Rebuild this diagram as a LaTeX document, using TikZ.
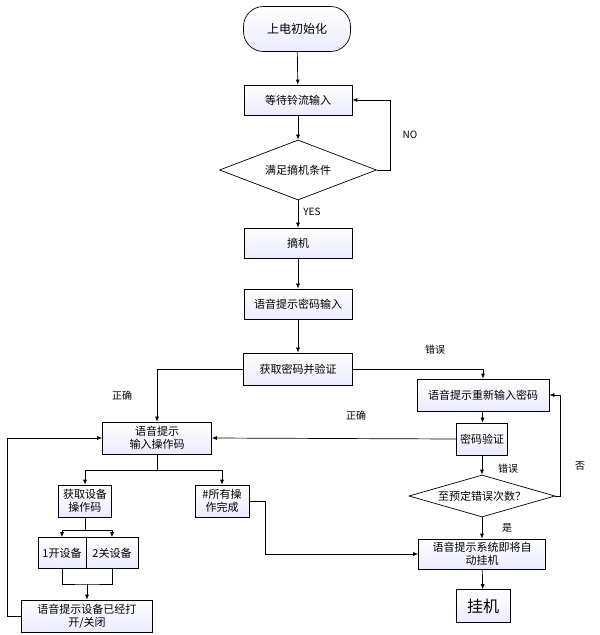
\documentclass[tikz,border=0pt]{standalone}
\usepackage{fontspec}
\setmainfont{Noto Sans CJK SC}
\usetikzlibrary{shapes.geometric,arrows.meta}
\tikzset{
  box/.style={draw,top color=white,bottom color=blue!8!white,minimum height=30pt,align=center,font=\fontsize{11}{13}\selectfont,inner sep=1pt},
  cond/.style={draw,diamond,aspect=2.6,fill=white,font=\fontsize{11}{13}\selectfont,inner sep=0pt},
  lbl/.style={font=\fontsize{10}{12}\selectfont},
  >={Latex[length=5pt,width=4pt]}
}
\begin{document}
\begin{tikzpicture}[x=1pt,y=-1pt,line width=0.7pt]
  \useasboundingbox (0,0) rectangle (600,635);
  % main column
  \node[box,rounded corners=20pt,minimum width=107pt,minimum height=45pt,font=\fontsize{12}{14}\selectfont] (start) at (297,29) {上电初始化};
  \node[box,minimum width=108pt] (wait) at (298,100) {等待铃流输入};
  \node[cond,minimum width=157pt,minimum height=60pt] (hook) at (298,170) {满足摘机条件};
  \node[box,minimum width=108pt] (pick) at (298,243) {摘机};
  \node[box,minimum width=108pt] (ask) at (298,304) {语音提示密码输入};
  \node[box,minimum width=109pt,minimum height=32pt] (check) at (298,369) {获取密码并验证};
  % right column
  \node[box,minimum width=132pt,minimum height=32pt] (again) at (483,395) {语音提示重新输入密码};
  \node[box,minimum width=51pt,minimum height=32pt] (verify) at (482,439) {密码验证};
  \node[cond,minimum width=146pt,minimum height=42pt,aspect=3.5] (count) at (482,496) {至预定错误次数？};
  \node[box,minimum width=127pt] (warn) at (482,554) {语音提示系统即将自\\动挂机};
  \node[box,minimum width=54pt,minimum height=33pt,font=\fontsize{16}{18}\selectfont] (hang) at (483,606) {挂机};
  % left column
  \node[box,minimum width=109pt,minimum height=32pt] (menu) at (157,438) {语音提示\\输入操作码};
  \node[box,minimum width=53pt,minimum height=32pt] (dev) at (85,501) {获取设备\\操作码};
  \node[box,minimum width=54pt,minimum height=32pt] (done) at (222,501) {\#所有操\\作完成};
  \node[box,minimum width=48pt,minimum height=31pt] (on) at (62,553) {1开设备};
  \node[box,minimum width=52pt,minimum height=31pt] (off) at (112,553) {2关设备};
  \node[box,minimum width=131pt,minimum height=32pt] (state) at (87,616) {语音提示设备已经打\\开/关闭};
  % labels
  \node[lbl] (no) at (410,135) {NO};
  \node[lbl] (yes) at (312,212) {YES};
  \node[lbl] (err1) at (435,350) {错误};
  \node[lbl] (ok1) at (122,396) {正确};
  \node[lbl] (ok2) at (356,416) {正确};
  \node[lbl] (err2) at (508,469) {错误};
  \node[lbl] (nope) at (580,466) {否};
  \node[lbl] (yep) at (507,528) {是};
  % connectors
  \draw[->] (start) -- (wait);
  \draw[->] (wait) -- (hook);
  \draw[->] (hook) -- (pick);
  \draw[->] (hook.east) -- (390,170) |- (wait.east);
  \draw[->] (pick) -- (ask);
  \draw[->] (ask) -- (check);
  \draw[->] (check.west) -| (menu.north);
  \draw[->] (check.east) -| (again.north);
  \draw[->] (again) -- (verify);
  \draw[->] (verify.west) -- (menu.east);
  \draw[->] (verify) -- (count);
  \draw[->] (count) -- (warn);
  \draw[->] (count.east) -- (560,496) |- (again.east);
  \draw[->] (warn) -- (hang);
  \draw[->] (menu.south) -- (157,470) -| (dev.north);
  \draw[->] (157,470) -| (done.north);
  \draw[->] (done.east) -- (265,501) |- (warn.west);
  \draw[->] (dev.south) -- (85,530) -| (on.north);
  \draw[->] (85,530) -| (off.north);
  \draw (on.south) |- (87,584) -| (off.south);
  \draw[->] (87,584) -- (state.north);
  \draw[->] (state.west) -- (7,616) |- (menu.west);
\end{tikzpicture}
\end{document}
